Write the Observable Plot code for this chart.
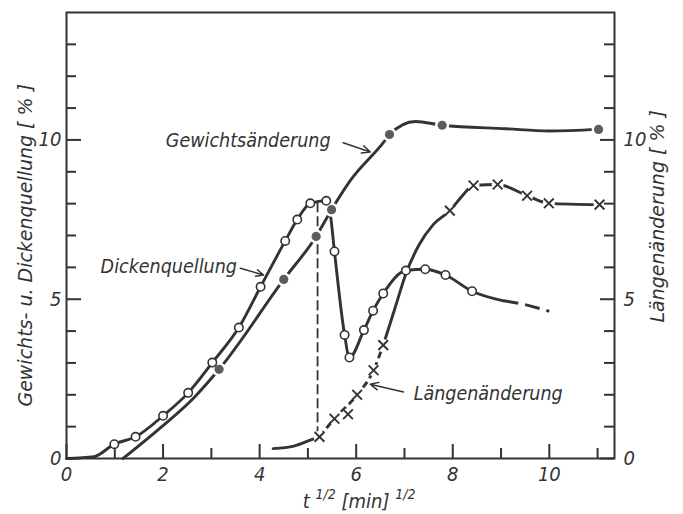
<!DOCTYPE html>
<html><head><meta charset="utf-8">
<script src="https://cdn.jsdelivr.net/npm/d3@7"></script>
<script src="https://cdn.jsdelivr.net/npm/@observablehq/plot@0.6"></script>
<style>body{margin:0;background:#fff;}</style>
</head><body><div id="chart"></div>
<script>
// ---- data ----
// Dickenquellung (open circles)
const dickenX = [0.99,1.43,2.0,2.52,3.02,3.57,4.02,4.53,4.78,5.05,5.38,5.55,5.76,5.86,6.16,6.35,6.56,7.03,7.43,7.85,8.4];
const dickenY = [0.45,0.68,1.34,2.06,3.01,4.11,5.39,6.83,7.5,8.01,8.09,6.5,3.88,3.17,4.03,4.64,5.18,5.9,5.94,5.76,5.25];
// Dickenquellung curve
const dickenLineX = [0,0.57,0.99,1.43,2.0,2.52,3.02,3.57,4.02,4.53,4.78,5.05,5.38,5.47,5.55,5.76,5.86,6.16,6.35,6.56,7.03,7.43,7.85,8.4,9.05,9.4,10.0];
const dickenLineY = [0,0.06,0.45,0.68,1.34,2.06,3.01,4.11,5.39,6.83,7.5,8.01,8.09,7.6,6.5,3.88,3.17,4.03,4.64,5.18,5.9,5.94,5.76,5.25,4.95,4.86,4.62];
const dickenDashFrom = 9.05;

// Gewichtsänderung (filled dots)
const gewX = [3.16,4.5,5.17,5.49,6.69,7.78,11.02];
const gewY = [2.8,5.62,6.97,7.81,10.17,10.46,10.33];
const gewLineX = [1.17,1.95,2.64,3.16,4.5,5.17,5.49,5.88,6.57,6.69,7.23,7.78,9.1,10.0,11.02];
const gewLineY = [0,0.97,1.91,2.8,5.62,6.97,7.81,8.73,9.93,10.17,10.58,10.46,10.35,10.28,10.33];

// Längenänderung (x marks)
const langX = [5.24,5.55,5.83,6.02,6.36,6.56,7.94,8.43,8.93,9.54,9.99,11.04];
const langY = [0.68,1.25,1.39,2.0,2.77,3.56,7.78,8.57,8.6,8.25,8.01,7.97];
const langLineX = [4.28,4.71,5.09,5.24,5.55,6.02,6.36,6.56,6.8,7.03,7.3,7.6,7.94,8.2,8.43,8.93,9.54,9.99,11.04];
const langLineY = [0.31,0.39,0.6,0.68,1.25,2.0,2.77,3.56,4.7,5.8,6.7,7.35,7.78,8.25,8.57,8.6,8.25,8.01,7.97];
const langDashFrom = 5.24, langDashTo = 6.56;

// vertical dashed guide
const guideX = [5.2];
const guideY1 = [0.68];
const guideY2 = [8.1];

// ticks
const xLabelTicks = [0,2,4,6,8,10];
const xMinorTicks = [1,3,5,7,9,11];
const yLabelTicks = [0,5,10];
const yMinorTicks = [1,2,3,4,6,7,8,9,11,12,13];

// annotations
const annText = ["Gewichtsänderung","Dickenquellung","Längenänderung"];
const annX = [5.47,3.53,7.19];
const annY = [9.96,6.03,2.04];
const annAnchor = ["end","end","start"];
const leadX1 = [5.73,3.60,6.98], leadY1 = [9.91,5.97,2.09];
const leadX2 = [6.29,4.08,6.29], leadY2 = [9.62,5.76,2.33];

const xTitle = ["t ","1/2"," [min] ","1/2"];
const yTitleLeft = "Gewichts- u. Dickenquellung [ % ]";
const yTitleRight = "Längenänderung [ % ]";

// ---- build ----
const INK = "#333333";
const W = 683, H = 514, mL = 66, mR = 69, mT = 12, mB = 56;
const plotW = W - mL - mR, plotH = H - mT - mB;
const zip = (xs, ys) => xs.map((x, i) => ({x, y: ys[i]}));
const dicken = zip(dickenX, dickenY), dickenLine = zip(dickenLineX, dickenLineY);
const gew = zip(gewX, gewY), gewLine = zip(gewLineX, gewLineY);
const lang = zip(langX, langY), langLine = zip(langLineX, langLineY);
const ann = annText.map((t, i) => ({t, x: annX[i], y: annY[i], a: annAnchor[i]}));
const leads = leadX1.map((x1, i) => ({x1, y1: leadY1[i], x2: leadX2[i], y2: leadY2[i]}));
const guide = guideX.map((x, i) => ({x, y1: guideY1[i], y2: guideY2[i]}));
const FONT = "'DejaVu Sans Condensed','DejaVu Sans',sans-serif";
const FONT_WIDE = "'DejaVu Sans',sans-serif";
const lineOpts = {x: "x", y: "y", curve: "monotone-x", stroke: INK, strokeWidth: 2.9, strokeLinecap: "round"};

const svg = Plot.plot({
  width: W, height: H,
  marginLeft: mL, marginRight: mR, marginTop: mT, marginBottom: mB,
  x: {domain: [0, 11.35]},
  y: {domain: [0, 14]},
  style: {fontFamily: FONT, fontStyle: "italic", fontSize: "20px", color: INK, background: "#fff"},
  marks: [
    // lines
    Plot.line(dickenLine.filter(d => d.x <= dickenDashFrom), lineOpts),
    Plot.line(dickenLine.filter(d => d.x >= dickenDashFrom), {...lineOpts, strokeDasharray: "15,7", strokeLinecap: "butt"}),
    Plot.line(gewLine, lineOpts),
    Plot.line(langLine.filter(d => d.x <= langDashFrom), lineOpts),
    Plot.line(langLine.filter(d => d.x >= langDashFrom && d.x <= langDashTo), {...lineOpts, strokeDasharray: "7,4", strokeLinecap: "butt"}),
    Plot.line(langLine.filter(d => d.x >= langDashTo), lineOpts),
    Plot.ruleX(guide, {x: "x", y1: "y1", y2: "y2", stroke: INK, strokeWidth: 1.8, strokeDasharray: "10,4"}),
    // markers
    Plot.dot(gew, {x: "x", y: "y", r: 7, fill: "#fff"}),
    Plot.dot(gew, {x: "x", y: "y", r: 4.6, fill: "#5c5c5c"}),
    Plot.dot(lang, {x: "x", y: "y", r: 6, fill: "#fff"}),
    Plot.dot(lang, {x: "x", y: "y", r: 4.5, symbol: "times", stroke: INK, strokeWidth: 1.9}),
    Plot.dot(dicken, {x: "x", y: "y", r: 4.2, fill: "#fff", stroke: INK, strokeWidth: 1.6}),
    // annotations
    Plot.arrow(leads, {x1: "x1", y1: "y1", x2: "x2", y2: "y2", stroke: INK, strokeWidth: 1.5, headLength: 9, headAngle: 50}),
    Plot.text(ann.filter(d => d.a === "end"), {x: "x", y: "y", text: "t", textAnchor: "end", fontSize: 19.5, fill: INK}),
    Plot.text(ann.filter(d => d.a === "start"), {x: "x", y: "y", text: "t", textAnchor: "start", fontSize: 19.5, fill: INK}),
    // frame + ticks
    Plot.frame({stroke: INK, strokeWidth: 2}),
    Plot.tickX(xLabelTicks, {x: d => d, insetTop: plotH - 14, stroke: INK, strokeWidth: 2}),
    Plot.tickX(xMinorTicks, {x: d => d, insetTop: plotH - 10, stroke: INK, strokeWidth: 2}),
    Plot.tickY(yLabelTicks, {y: d => d, insetRight: plotW - 15, stroke: INK, strokeWidth: 2}),
    Plot.tickY(yMinorTicks, {y: d => d, insetRight: plotW - 10, stroke: INK, strokeWidth: 2}),
    Plot.tickY(yLabelTicks, {y: d => d, insetLeft: plotW - 14, stroke: INK, strokeWidth: 2}),
    Plot.tickY(yMinorTicks, {y: d => d, insetLeft: plotW - 10, stroke: INK, strokeWidth: 2}),
    Plot.axisX({ticks: xLabelTicks, tickSize: 0, tickPadding: 8, label: null, fontSize: 20}),
    Plot.axisY({anchor: "left", ticks: yLabelTicks, tickSize: 0, tickPadding: 5, label: null, fontSize: 20}),
    Plot.axisY({anchor: "right", ticks: yLabelTicks, tickSize: 0, tickPadding: 9, label: null, fontSize: 20})
  ]
});

const s = d3.select(svg);
const xt = s.append("text").attr("x", mL + plotW * 0.535).attr("y", H - 6)
  .attr("text-anchor", "middle").attr("fill", INK)
  .style("font-size", "20px").style("font-style", "italic").style("font-family", FONT);
xTitle.forEach((part, i) => {
  const sup = i % 2 === 1;
  xt.append("tspan").attr("dy", sup ? -9 : (i === 0 ? 0 : 9))
    .style("font-size", sup ? "14px" : "20px").text(part);
});
s.append("text").attr("transform", `translate(32,${mT + plotH * 0.523}) rotate(-90)`)
  .attr("text-anchor", "middle").attr("fill", INK)
  .style("font-size", "19px").style("font-style", "italic").style("font-family", FONT_WIDE)
  .text(yTitleLeft);
s.append("text").attr("transform", `translate(664,${mT + plotH * 0.458}) rotate(-90)`)
  .attr("text-anchor", "middle").attr("fill", INK)
  .style("font-size", "19px").style("font-style", "italic").style("font-family", FONT_WIDE)
  .text(yTitleRight);

document.getElementById("chart").appendChild(svg);
</script>
</body></html>
